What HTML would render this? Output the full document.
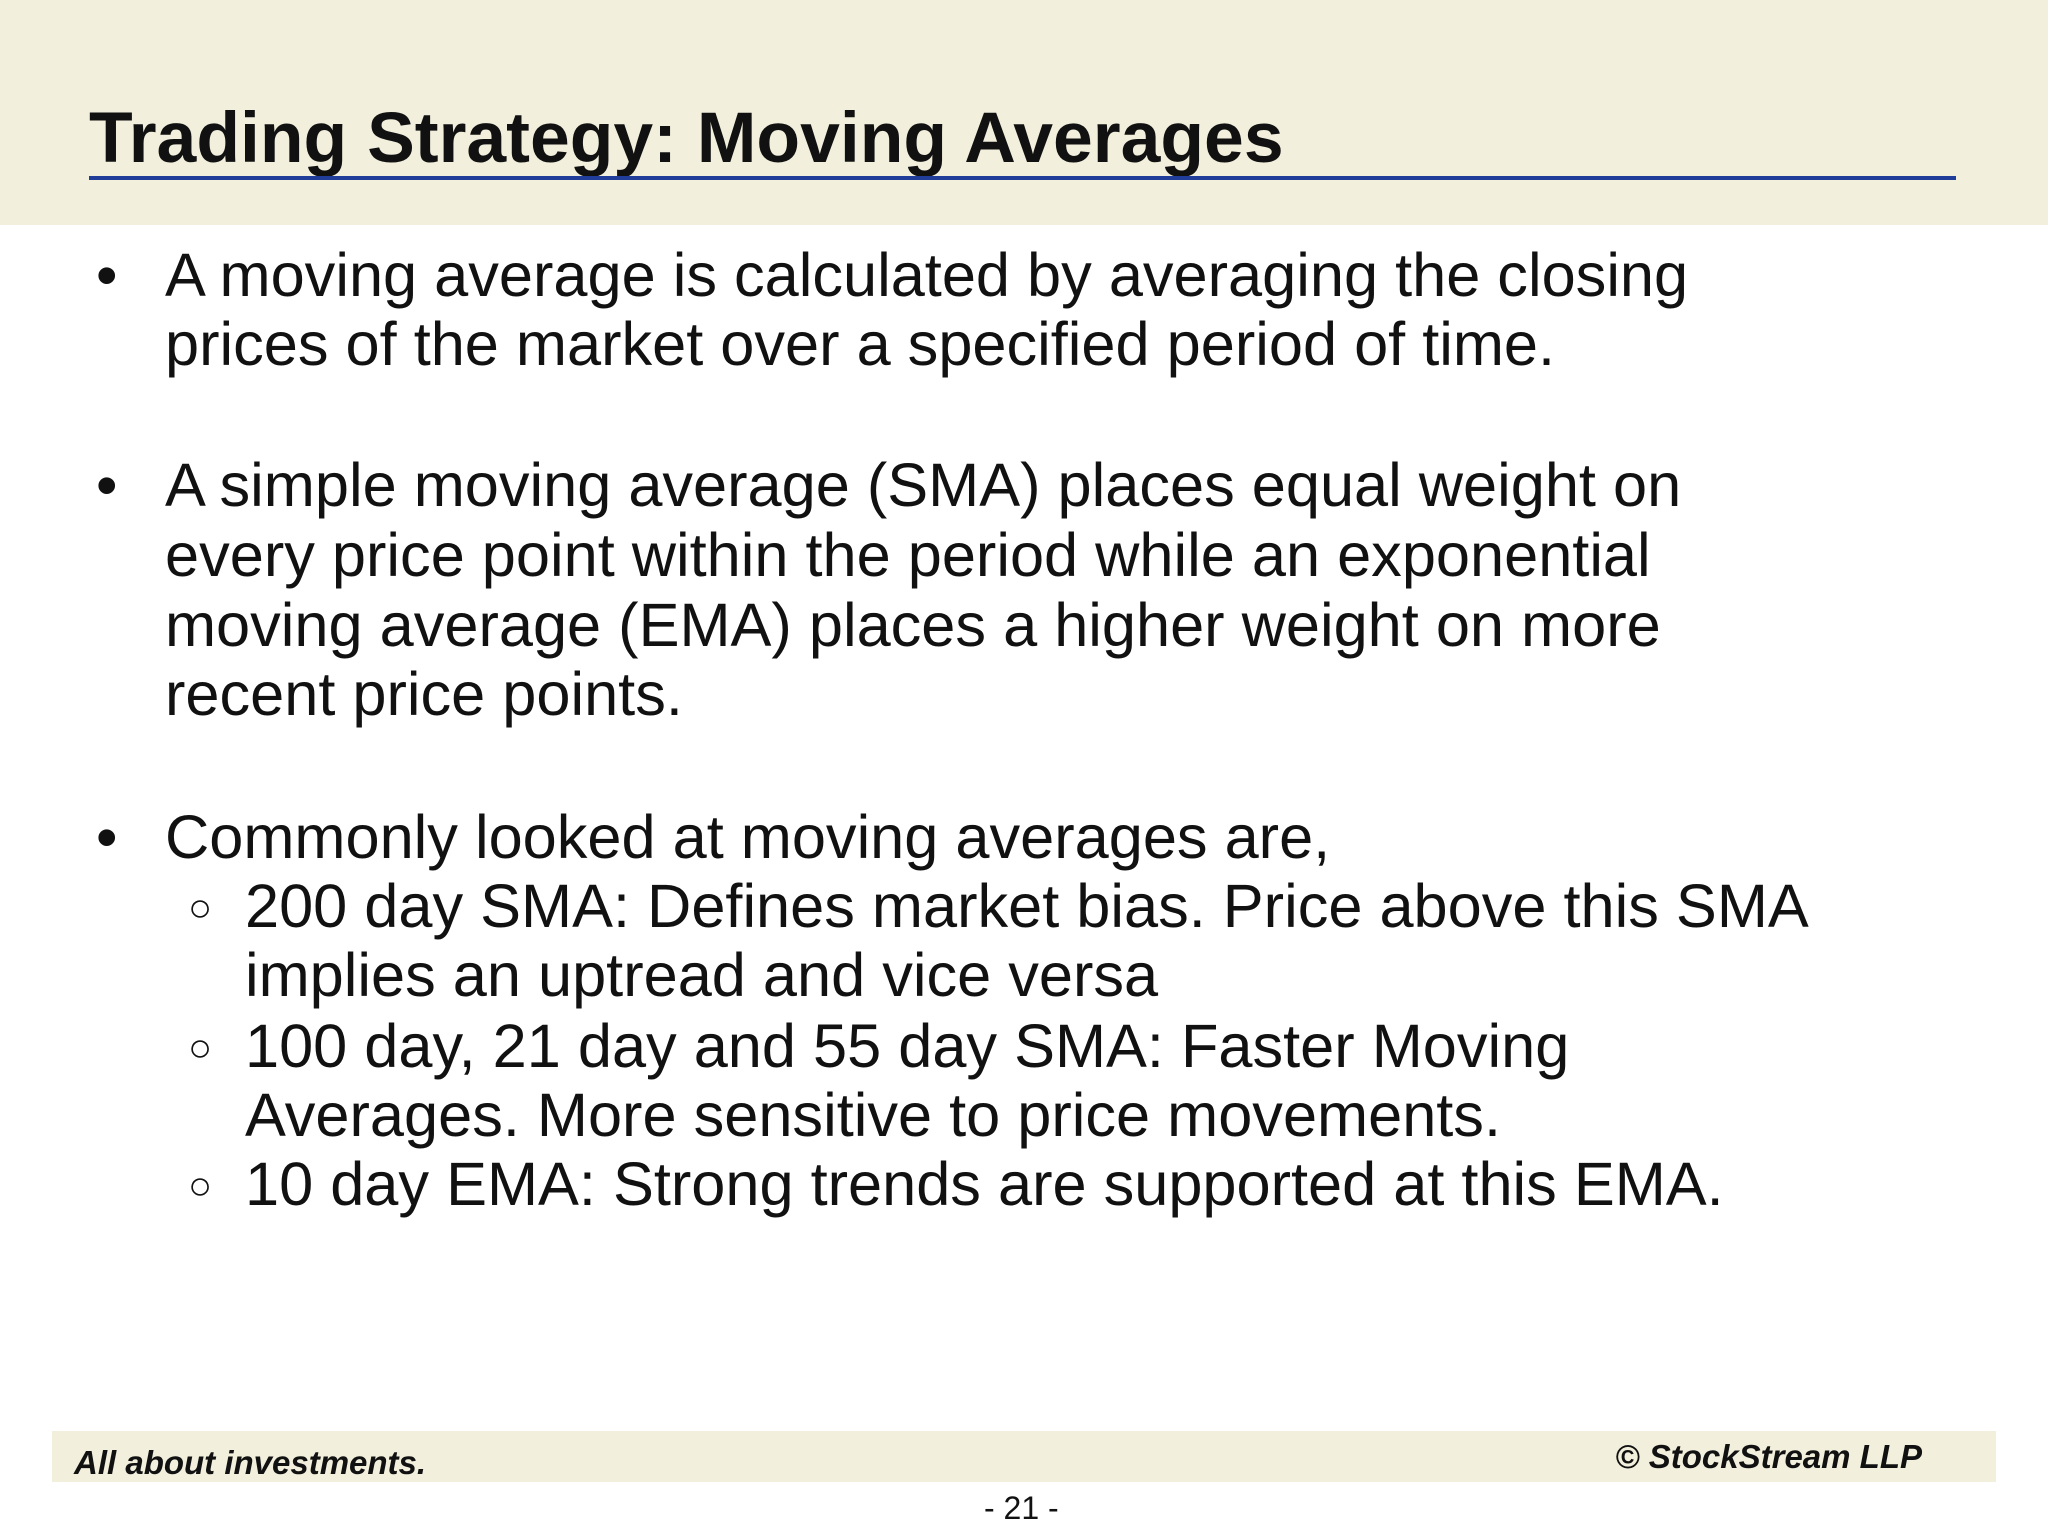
<!DOCTYPE html>
<html><head><meta charset="utf-8"><style>
body{margin:0;width:2048px;height:1536px;background:#fff;position:relative;overflow:hidden;font-family:"Liberation Sans",Arial,sans-serif;color:#111}
.a{position:absolute;white-space:nowrap;line-height:1}
.t{font-size:61.3px}
</style></head><body>
<div style="position:absolute;left:0;top:0;width:2048px;height:225px;background:#f2efdc"></div>
<div class="a" style="left:89px;top:103px;font-size:71.5px;font-weight:bold;color:#111">Trading Strategy: Moving Averages</div>
<div style="position:absolute;left:89px;top:176px;width:1867px;height:4px;background:#1f3d99"></div>

<div class="a t" style="left:96px;top:245px">•</div>
<div class="a t" style="left:165px;top:245px">A moving average is calculated by averaging the closing</div>
<div class="a t" style="left:165px;top:314px">prices of the market over a specified period of time.</div>

<div class="a t" style="left:96px;top:455px">•</div>
<div class="a t" style="left:165px;top:455px">A simple moving average (SMA) places equal weight on</div>
<div class="a t" style="left:165px;top:525px">every price point within the period while an exponential</div>
<div class="a t" style="left:165px;top:595px">moving average (EMA) places a higher weight on more</div>
<div class="a t" style="left:165px;top:664px">recent price points.</div>

<div class="a t" style="left:96px;top:807px">•</div>
<div class="a t" style="left:165px;top:807px">Commonly looked at moving averages are,</div>
<div class="a" style="left:188px;top:888px;font-size:40px">○</div>
<div class="a t" style="left:245px;top:876px">200 day SMA: Defines market bias. Price above this SMA</div>
<div class="a t" style="left:245px;top:945px">implies an uptread and vice versa</div>
<div class="a" style="left:188px;top:1028px;font-size:40px">○</div>
<div class="a t" style="left:245px;top:1016px">100 day, 21 day and 55 day SMA: Faster Moving</div>
<div class="a t" style="left:245px;top:1085px">Averages. More sensitive to price movements.</div>
<div class="a" style="left:188px;top:1166px;font-size:40px">○</div>
<div class="a t" style="left:245px;top:1154px">10 day EMA: Strong trends are supported at this EMA.</div>

<div style="position:absolute;left:52px;top:1431px;width:1944px;height:51px;background:#f2efdc"></div>
<div class="a" style="left:74px;top:1446px;font-size:33px;font-weight:bold;font-style:italic">All about investments.</div>
<div class="a" style="right:126px;top:1440px;font-size:33px;font-weight:bold;font-style:italic">© StockStream LLP</div>
<div class="a" style="left:984px;top:1492px;font-size:32px">- 21 -</div>
</body></html>
